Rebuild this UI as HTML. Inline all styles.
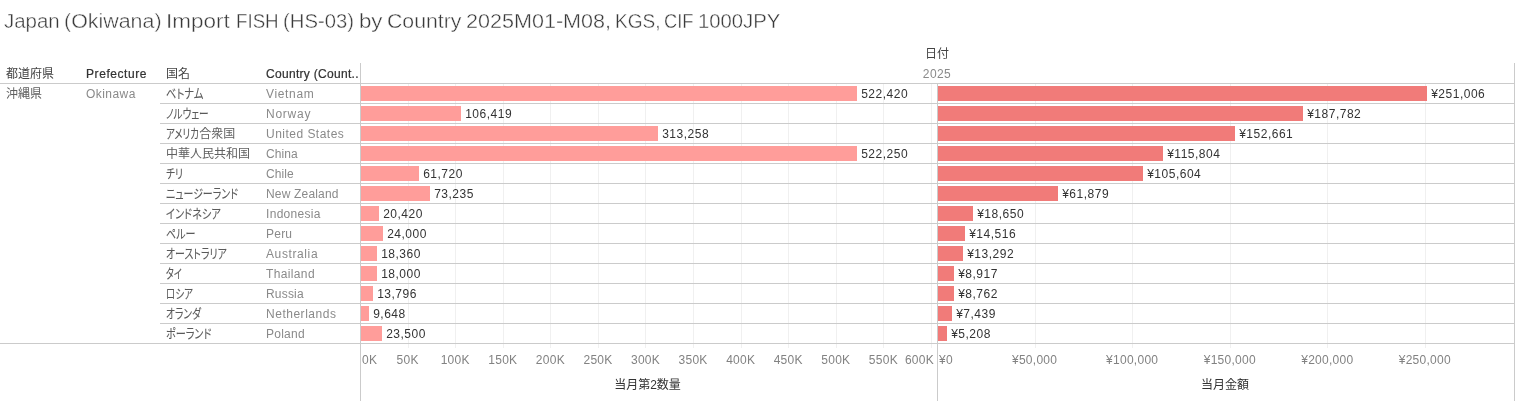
<!DOCTYPE html>
<html lang="ja"><head><meta charset="utf-8"><title>Japan (Okiwana) Import FISH (HS-03) by Country</title>
<style>
html,body{margin:0;padding:0;background:#fff;}
body{width:1516px;height:401px;position:relative;overflow:hidden;font-family:"Liberation Sans","Noto Sans CJK JP",sans-serif;font-size:12px;color:#333;}
.a{position:absolute;white-space:nowrap;line-height:20px;height:20px;}
.t{position:absolute;left:0;top:7px;width:1000px;height:28px;font-size:20.5px;line-height:28px;color:#3a3a3a;-webkit-text-stroke:0.4px #fff;white-space:nowrap;}
.t span{position:absolute;top:0;transform-origin:0 50%;}
.h{background:#cbcbcb;position:absolute;height:1px;}
.v{background:#cbcbcb;position:absolute;width:1px;}
.g{background:#f0f0f0;position:absolute;width:1px;}
.bl{position:absolute;height:15px;background:#ff9d9a;}
.br{position:absolute;height:15px;background:#f17b79;}
.hd{color:#444;}
.hb{color:#333;-webkit-text-stroke:0.22px #333;}
.jp{color:#606060;}
.k{display:inline-block;height:20px;vertical-align:top;}
.k>span{display:inline-block;transform-origin:0 50%;font-size:12.75px;font-feature-settings:"palt" 1;color:#5a5a5a;-webkit-text-stroke:0.1px #5a5a5a;}
.en{color:#8a8a8a;letter-spacing:0.45px;}
.val{color:#333;letter-spacing:0.5px;}
.ax{color:#828282;letter-spacing:0.27px;transform:translateX(-50%);}
.axt{color:#333;transform:translateX(-50%);}
</style></head><body>
<div class="t"><span style="left:3.70px;transform:scaleX(0.9981)">Japan</span> <span style="left:64.16px;transform:scaleX(1.0440)">(Okiwana)</span> <span style="left:166.36px;transform:scaleX(1.0967)">Import</span> <span style="left:235.80px;transform:scaleX(0.9132)">FISH</span> <span style="left:283.41px;transform:scaleX(0.9886)">(HS-03)</span> <span style="left:358.52px;transform:scaleX(1.0850)">by</span> <span style="left:386.86px;transform:scaleX(1.0371)">Country</span> <span style="left:465.64px;transform:scaleX(1.0516)">2025M01-M08,</span> <span style="left:614.73px;transform:scaleX(0.9283)">KGS,</span> <span style="left:664.19px;transform:scaleX(0.8929)">CIF</span> <span style="left:698.04px;transform:scaleX(0.9888)">1000JPY</span></div>
<div class="g" style="left:408px;top:83px;height:265px"></div>
<div class="g" style="left:455px;top:83px;height:265px"></div>
<div class="g" style="left:503px;top:83px;height:265px"></div>
<div class="g" style="left:550px;top:83px;height:265px"></div>
<div class="g" style="left:598px;top:83px;height:265px"></div>
<div class="g" style="left:645px;top:83px;height:265px"></div>
<div class="g" style="left:693px;top:83px;height:265px"></div>
<div class="g" style="left:741px;top:83px;height:265px"></div>
<div class="g" style="left:788px;top:83px;height:265px"></div>
<div class="g" style="left:836px;top:83px;height:265px"></div>
<div class="g" style="left:883px;top:83px;height:265px"></div>
<div class="g" style="left:931px;top:83px;height:265px"></div>
<div class="g" style="left:1035px;top:83px;height:265px"></div>
<div class="g" style="left:1132px;top:83px;height:265px"></div>
<div class="g" style="left:1230px;top:83px;height:265px"></div>
<div class="g" style="left:1327px;top:83px;height:265px"></div>
<div class="g" style="left:1425px;top:83px;height:265px"></div>
<div class="h" style="left:0;top:83px;width:1515px"></div>
<div class="h" style="left:160px;top:103px;width:1355px"></div>
<div class="h" style="left:160px;top:123px;width:1355px"></div>
<div class="h" style="left:160px;top:143px;width:1355px"></div>
<div class="h" style="left:160px;top:163px;width:1355px"></div>
<div class="h" style="left:160px;top:183px;width:1355px"></div>
<div class="h" style="left:160px;top:203px;width:1355px"></div>
<div class="h" style="left:160px;top:223px;width:1355px"></div>
<div class="h" style="left:160px;top:243px;width:1355px"></div>
<div class="h" style="left:160px;top:263px;width:1355px"></div>
<div class="h" style="left:160px;top:283px;width:1355px"></div>
<div class="h" style="left:160px;top:303px;width:1355px"></div>
<div class="h" style="left:160px;top:323px;width:1355px"></div>
<div class="h" style="left:0;top:343px;width:1515px"></div>
<div class="v" style="left:360px;top:63px;height:338px"></div>
<div class="v" style="left:937px;top:83px;height:318px"></div>
<div class="v" style="left:1514px;top:63px;height:338px"></div>
<div class="a hd" style="left:6px;top:64px">都道府県</div>
<div class="a hb" style="left:86px;top:64px;letter-spacing:0.57px">Prefecture</div>
<div class="a hd" style="left:166px;top:64px">国名</div>
<div class="a hb" style="left:266px;top:64px;letter-spacing:0.3px">Country (Count..</div>
<div class="a hd" style="left:937px;top:44px;transform:translateX(-50%)">日付</div>
<div class="a" style="left:937px;top:64px;transform:translateX(-50%);color:#8a8a8a;letter-spacing:0.4px">2025</div>
<div class="a jp" style="left:6px;top:84px">沖縄県</div>
<div class="a en" style="left:86px;top:84px">Okinawa</div>
<div class="a jp" style="left:165.99px;top:84px"><span class="k" style="width:37.38px"><span style="transform:scaleX(0.8030)">ベトナム</span></span></div><div class="a en" style="left:266px;top:84px;letter-spacing:0.65px">Vietnam</div><div class="bl" style="left:361px;top:86px;width:496px"></div><div class="a val" style="left:861.2px;top:84px">522,420</div><div class="br" style="left:938px;top:86px;width:489px"></div><div class="a val" style="left:1431.2px;top:84px">¥251,006</div>
<div class="a jp" style="left:166.2px;top:104px"><span class="k" style="width:42.63px"><span style="transform:scaleX(0.7548)">ノルウェー</span></span></div><div class="a en" style="left:266px;top:104px;letter-spacing:0.74px">Norway</div><div class="bl" style="left:361px;top:106px;width:100px"></div><div class="a val" style="left:465.2px;top:104px">106,419</div><div class="br" style="left:938px;top:106px;width:365px"></div><div class="a val" style="left:1307.2px;top:104px">¥187,782</div>
<div class="a jp" style="left:166.31px;top:124px"><span class="k" style="width:32.90px"><span style="transform:scaleX(0.7372)">アメリカ</span></span>合衆国</div><div class="a en" style="left:266px;top:124px;letter-spacing:0.48px">United States</div><div class="bl" style="left:361px;top:126px;width:297px"></div><div class="a val" style="left:662.2px;top:124px">313,258</div><div class="br" style="left:938px;top:126px;width:297px"></div><div class="a val" style="left:1239.2px;top:124px">¥152,661</div>
<div class="a jp" style="left:166px;top:144px">中華人民共和国</div><div class="a en" style="left:266px;top:144px;letter-spacing:0.1px">China</div><div class="bl" style="left:361px;top:146px;width:496px"></div><div class="a val" style="left:861.2px;top:144px">522,250</div><div class="br" style="left:938px;top:146px;width:225px"></div><div class="a val" style="left:1167.2px;top:144px">¥115,804</div>
<div class="a jp" style="left:166.36px;top:164px"><span class="k" style="width:16.90px"><span style="transform:scaleX(0.7650)">チリ</span></span></div><div class="a en" style="left:266px;top:164px;letter-spacing:0.1px">Chile</div><div class="bl" style="left:361px;top:166px;width:58px"></div><div class="a val" style="left:423.2px;top:164px">61,720</div><div class="br" style="left:938px;top:166px;width:205px"></div><div class="a val" style="left:1147.2px;top:164px">¥105,604</div>
<div class="a jp" style="left:166.18px;top:184px"><span class="k" style="width:71.99px"><span style="transform:scaleX(0.7797)">ニュージーランド</span></span></div><div class="a en" style="left:266px;top:184px;letter-spacing:0.18px">New Zealand</div><div class="bl" style="left:361px;top:186px;width:69px"></div><div class="a val" style="left:434.2px;top:184px">73,235</div><div class="br" style="left:938px;top:186px;width:120px"></div><div class="a val" style="left:1062.2px;top:184px">¥61,879</div>
<div class="a jp" style="left:166.0px;top:204px"><span class="k" style="width:54.85px"><span style="transform:scaleX(0.8000)">インドネシア</span></span></div><div class="a en" style="left:266px;top:204px;letter-spacing:0.31px">Indonesia</div><div class="bl" style="left:361px;top:206px;width:18px"></div><div class="a val" style="left:383.2px;top:204px">20,420</div><div class="br" style="left:938px;top:206px;width:35px"></div><div class="a val" style="left:977.2px;top:204px">¥18,650</div>
<div class="a jp" style="left:166.03px;top:224px"><span class="k" style="width:29.44px"><span style="transform:scaleX(0.7853)">ペルー</span></span></div><div class="a en" style="left:266px;top:224px;letter-spacing:0.23px">Peru</div><div class="bl" style="left:361px;top:226px;width:22px"></div><div class="a val" style="left:387.2px;top:224px">24,000</div><div class="br" style="left:938px;top:226px;width:27px"></div><div class="a val" style="left:969.2px;top:224px">¥14,516</div>
<div class="a jp" style="left:166.15px;top:244px"><span class="k" style="width:60.80px"><span style="transform:scaleX(0.7765)">オーストラリア</span></span></div><div class="a en" style="left:266px;top:244px;letter-spacing:0.61px">Australia</div><div class="bl" style="left:361px;top:246px;width:16px"></div><div class="a val" style="left:381.2px;top:244px">18,360</div><div class="br" style="left:938px;top:246px;width:25px"></div><div class="a val" style="left:967.2px;top:244px">¥13,292</div>
<div class="a jp" style="left:166.36px;top:264px"><span class="k" style="width:15.94px"><span style="transform:scaleX(0.7120)">タイ</span></span></div><div class="a en" style="left:266px;top:264px;letter-spacing:0.36px">Thailand</div><div class="bl" style="left:361px;top:266px;width:16px"></div><div class="a val" style="left:381.2px;top:264px">18,000</div><div class="br" style="left:938px;top:266px;width:16px"></div><div class="a val" style="left:958.2px;top:264px">¥8,917</div>
<div class="a jp" style="left:166.22px;top:284px"><span class="k" style="width:26.91px"><span style="transform:scaleX(0.7453)">ロシア</span></span></div><div class="a en" style="left:266px;top:284px;letter-spacing:0.18px">Russia</div><div class="bl" style="left:361px;top:286px;width:12px"></div><div class="a val" style="left:377.2px;top:284px">13,796</div><div class="br" style="left:938px;top:286px;width:16px"></div><div class="a val" style="left:958.2px;top:284px">¥8,762</div>
<div class="a jp" style="left:166.17px;top:304px"><span class="k" style="width:34.93px"><span style="transform:scaleX(0.7634)">オランダ</span></span></div><div class="a en" style="left:266px;top:304px;letter-spacing:0.52px">Netherlands</div><div class="bl" style="left:361px;top:306px;width:8px"></div><div class="a val" style="left:373.2px;top:304px">9,648</div><div class="br" style="left:938px;top:306px;width:14px"></div><div class="a val" style="left:956.2px;top:304px">¥7,439</div>
<div class="a jp" style="left:165.98px;top:324px"><span class="k" style="width:45.43px"><span style="transform:scaleX(0.7926)">ポーランド</span></span></div><div class="a en" style="left:266px;top:324px;letter-spacing:0.26px">Poland</div><div class="bl" style="left:361px;top:326px;width:21px"></div><div class="a val" style="left:386.2px;top:324px">23,500</div><div class="br" style="left:938px;top:326px;width:9px"></div><div class="a val" style="left:951.2px;top:324px">¥5,208</div>
<div class="a ax" style="left:362px;top:350px;transform:none">0K</div><div class="a ax" style="left:407.7px;top:350px">50K</div><div class="a ax" style="left:455.2px;top:350px">100K</div><div class="a ax" style="left:502.8px;top:350px">150K</div><div class="a ax" style="left:550.4px;top:350px">200K</div><div class="a ax" style="left:598.0px;top:350px">250K</div><div class="a ax" style="left:645.5px;top:350px">300K</div><div class="a ax" style="left:693.1px;top:350px">350K</div><div class="a ax" style="left:740.7px;top:350px">400K</div><div class="a ax" style="left:788.2px;top:350px">450K</div><div class="a ax" style="left:835.8px;top:350px">500K</div><div class="a ax" style="left:883.4px;top:350px">550K</div><div class="a ax" style="left:934px;top:350px;transform:translateX(-100%)">600K</div>
<div class="a ax" style="left:939px;top:350px;transform:none">¥0</div><div class="a ax" style="left:1034.6px;top:350px">¥50,000</div><div class="a ax" style="left:1132.2px;top:350px">¥100,000</div><div class="a ax" style="left:1229.8px;top:350px">¥150,000</div><div class="a ax" style="left:1327.3px;top:350px">¥200,000</div><div class="a ax" style="left:1424.8px;top:350px">¥250,000</div>
<div class="a axt" style="left:647.5px;top:375px">当月第2数量</div>
<div class="a axt" style="left:1225px;top:375px">当月金額</div>
</body></html>
